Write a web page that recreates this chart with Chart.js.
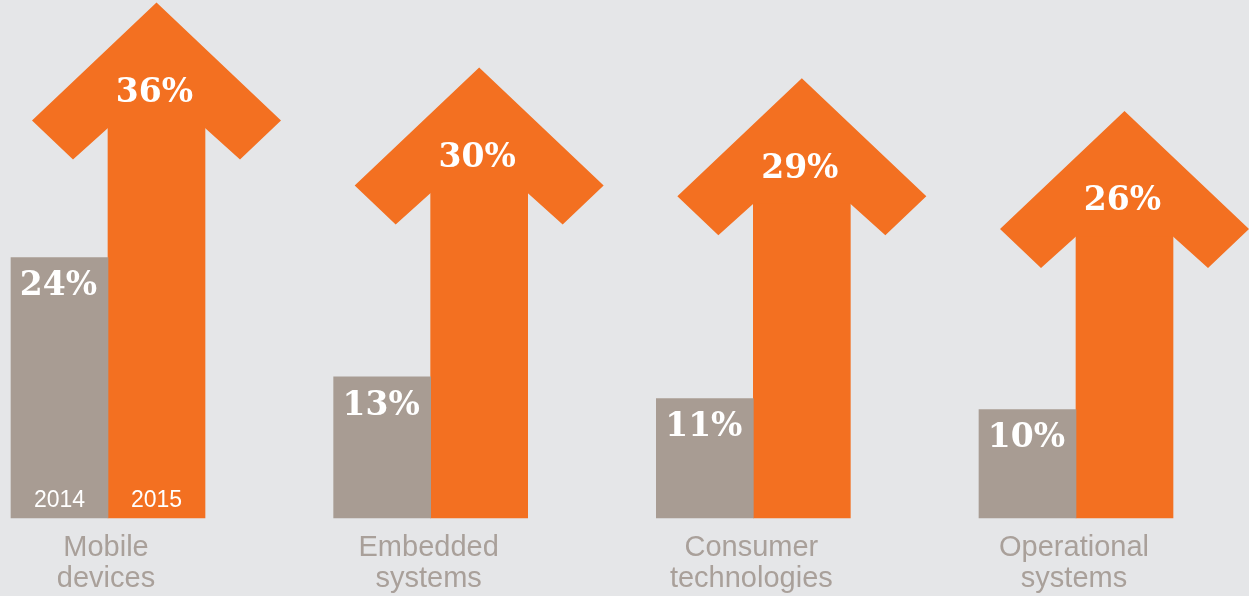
<!DOCTYPE html>
<html>
<head>
<meta charset="utf-8">
<script src="https://cdn.jsdelivr.net/npm/chart.js@4"></script>
<style>
  html, body { margin: 0; padding: 0; background: #e5e6e8; }
  canvas { display: block; }
</style>
</head>
<body>
<canvas id="growthChart" width="1249" height="596"></canvas>
<script>
const categories = [["Mobile", "devices"], ["Embedded", "systems"], ["Consumer", "technologies"], ["Operational", "systems"]];
const years = ["2014", "2015"];
const values2014 = [24, 13, 11, 10];
const values2015 = [36, 30, 29, 26];

const GRAY = "#a89c93";
const ORANGE = "#f37021";

// draws arrow heads on the 2015 bars, value labels, years and category names
const arrowPlugin = {
  id: "arrows",
  afterDatasetsDraw(chart) {
    const ctx = chart.ctx;
    const grayBars = chart.getDatasetMeta(0).data;
    const orangeBars = chart.getDatasetMeta(1).data;
    const xScale = chart.scales.x;

    ctx.save();
    orangeBars.forEach(bar => {
      const cx = bar.x, top = bar.y, hw = bar.width / 2;
      ctx.fillStyle = ORANGE;
      ctx.beginPath();
      ctx.moveTo(cx, top - 125);
      ctx.lineTo(cx + 124.5, top - 7);
      ctx.lineTo(cx + 83.5, top + 32);
      ctx.lineTo(cx + hw, top + 0.5);
      ctx.lineTo(cx - hw, top + 0.5);
      ctx.lineTo(cx - 83.5, top + 32);
      ctx.lineTo(cx - 124.5, top - 7);
      ctx.closePath();
      ctx.fill();
    });

    ctx.fillStyle = "#ffffff";
    ctx.textAlign = "center";
    ctx.textBaseline = "middle";
    ctx.font = "bold 33px 'DejaVu Serif'";
    orangeBars.forEach((bar, i) => {
      ctx.fillText(values2015[i] + "%", bar.x - 2, bar.y - 34);
    });
    grayBars.forEach((bar, i) => {
      ctx.fillText(values2014[i] + "%", bar.x - 1, bar.y + 29);
    });

    ctx.font = "23px 'Liberation Sans'";
    ctx.fillText(years[0], grayBars[0].x, 501);
    ctx.fillText(years[1], orangeBars[0].x, 501);

    ctx.fillStyle = "#a9a09a";
    ctx.font = "29px 'Liberation Sans'";
    categories.forEach((lines, i) => {
      const x = xScale.getPixelForValue(i);
      lines.forEach((line, j) => {
        ctx.fillText(line, x - 2, 548 + j * 31);
      });
    });
    ctx.restore();
  }
};

new Chart(document.getElementById("growthChart"), {
  type: "bar",
  data: {
    labels: categories,
    datasets: [
      { label: years[0], data: values2014, backgroundColor: GRAY, clip: false },
      { label: years[1], data: values2015, backgroundColor: ORANGE, clip: false }
    ]
  },
  options: {
    responsive: false,
    animation: false,
    barThickness: 97,
    layout: { padding: { left: 108, right: 173, top: 84, bottom: 78 } },
    plugins: { legend: { display: false }, tooltip: { enabled: false } },
    scales: {
      x: { display: false, offset: false },
      y: { display: false, min: 0, max: 40 }
    }
  },
  plugins: [arrowPlugin]
});
</script>
</body>
</html>
